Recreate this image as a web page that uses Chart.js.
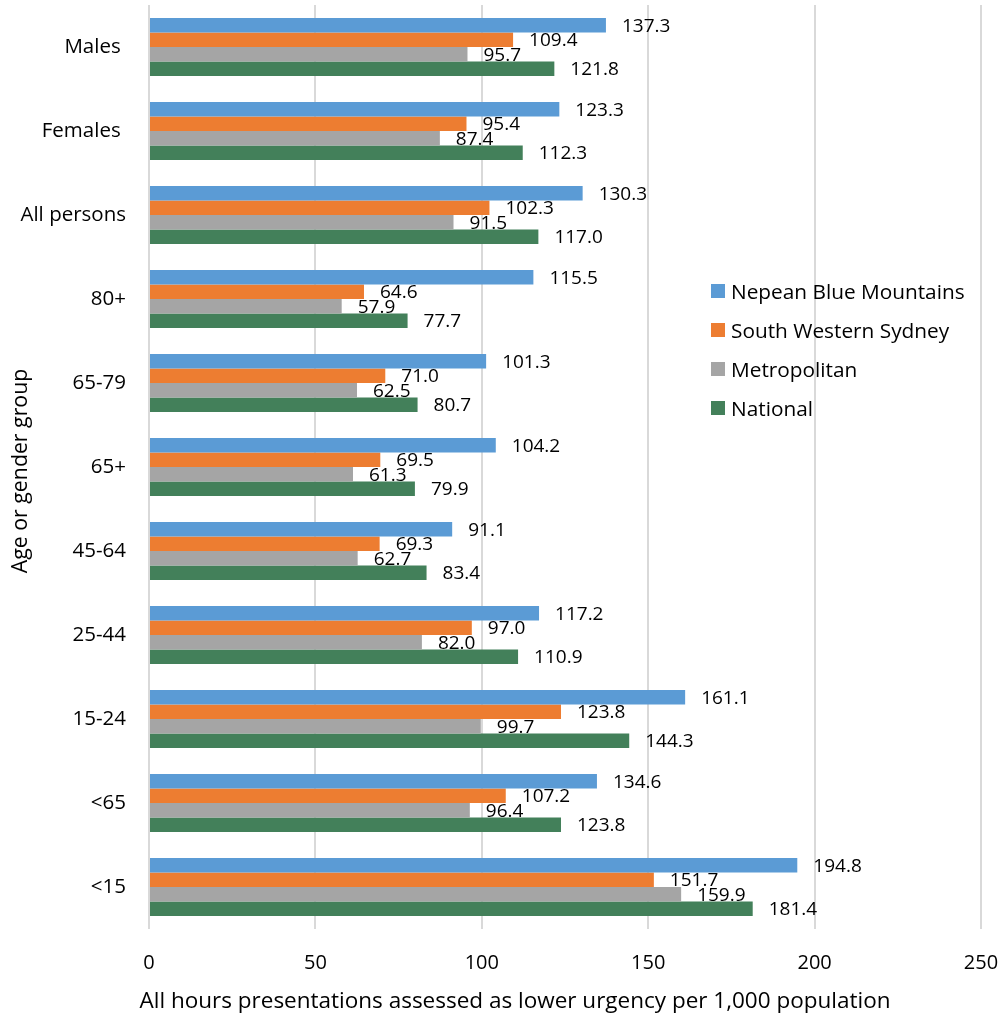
<!DOCTYPE html>
<html>
<head>
<meta charset="utf-8">
<script src="https://cdn.jsdelivr.net/npm/chart.js@4/dist/chart.umd.min.js"></script>
<style>
  html, body { margin: 0; padding: 0; background: #fff; }
  #wrap { position: relative; width: 1002px; height: 1020px; }
  #legend { position: absolute; left: 711px; top: 271px; font-family: "Open Sans", sans-serif; font-size: 20.8px; color: #000; }
  .row { display: flex; align-items: center; height: 39px; }
  .sw { width: 14px; height: 14px; margin-right: 6px; }
</style>
</head>
<body>
<div id="wrap">
  <canvas id="c" width="1002" height="1020"></canvas>
  <div id="legend"></div>
</div>
<script>
const categories = ["Males ", "Females ", "All persons", "80+", "65-79", "65+", "45-64", "25-44", "15-24", "<65", "<15"];
const seriesNames = ["Nepean Blue Mountains", "South Western Sydney", "Metropolitan", "National"];
const nepean = [137.3, 123.3, 130.3, 115.5, 101.3, 104.2, 91.1, 117.2, 161.1, 134.6, 194.8];
const southWestern = [109.4, 95.4, 102.3, 64.6, 71.0, 69.5, 69.3, 97.0, 123.8, 107.2, 151.7];
const metropolitan = [95.7, 87.4, 91.5, 57.9, 62.5, 61.3, 62.7, 82.0, 99.7, 96.4, 159.9];
const national = [121.8, 112.3, 117.0, 77.7, 80.7, 79.9, 83.4, 110.9, 144.3, 123.8, 181.4];
const xTicks = [0, 50, 100, 150, 200, 250];
const xTitle = 'All hours presentations assessed as lower urgency per 1,000 population';
const yTitle = 'Age or gender group';
const colors = ["#5B9BD5", "#ED7D31", "#A5A5A5", "#43805A"];

const FONT = '"Open Sans", sans-serif';
const allSeries = [nepean, southWestern, metropolitan, national];

const dataLabels = {
  id: 'dataLabels',
  afterDatasetsDraw(chart) {
    const ctx = chart.ctx;
    ctx.save();
    ctx.font = '19px ' + FONT;
    ctx.fillStyle = '#000';
    ctx.textAlign = 'left';
    ctx.textBaseline = 'middle';
    chart.data.datasets.forEach((ds, i) => {
      const meta = chart.getDatasetMeta(i);
      meta.data.forEach((el, j) => {
        ctx.fillText(ds.data[j].toFixed(1), el.x + 16, el.y + 1);
      });
    });
    ctx.restore();
  }
};

const axisTitles = {
  id: 'axisTitles',
  afterDraw(chart) {
    const ctx = chart.ctx;
    ctx.save();
    ctx.fillStyle = '#000';
    ctx.textAlign = 'center';
    ctx.textBaseline = 'middle';
    ctx.font = '22.5px ' + FONT;
    ctx.fillText(xTitle, 515, 1002);
    ctx.translate(21, 471);
    ctx.rotate(-Math.PI / 2);
    ctx.font = '21.3px ' + FONT;
    ctx.fillText(yTitle, 0, 0);
    ctx.restore();
  }
};

function zeroPad(scale) {
  scale.paddingTop = 0; scale.paddingBottom = 0;
  scale.paddingLeft = 0; scale.paddingRight = 0;
}

const chart = new Chart(document.getElementById('c'), {
  type: 'bar',
  data: {
    labels: categories,
    datasets: allSeries.map((d, i) => ({
      label: seriesNames[i],
      data: d,
      backgroundColor: colors[i],
      borderWidth: 0,
      categoryPercentage: 0.69,
      barPercentage: 1.0
    }))
  },
  options: {
    indexAxis: 'y',
    responsive: false,
    animation: false,
    devicePixelRatio: 1,
    layout: { padding: { top: 5, right: 21, left: 0, bottom: 0 } },
    plugins: { legend: { display: false }, tooltip: { enabled: false } },
    scales: {
      x: {
        min: 0, max: 250,
        afterBuildTicks(scale) { scale.ticks = xTicks.map(v => ({ value: v })); },
        grid: { color: '#D9D9D9', lineWidth: 2, drawTicks: false },
        border: { display: false },
        ticks: { color: '#000', font: { family: FONT, size: 20 }, padding: 22 },
        title: { display: false },
        afterFit(scale) { scale.height = 91; zeroPad(scale); }
      },
      y: {
        grid: { display: false, drawTicks: false },
        border: { display: false },
        ticks: { color: '#000', font: { family: FONT, size: 20.5 }, padding: 23 },
        title: { display: false },
        afterFit(scale) { scale.width = 149; zeroPad(scale); }
      }
    }
  },
  plugins: [dataLabels, axisTitles]
});

const legend = document.getElementById('legend');
seriesNames.forEach((n, i) => {
  const r = document.createElement('div');
  r.className = 'row';
  const s = document.createElement('div');
  s.className = 'sw';
  s.style.background = colors[i];
  const t = document.createElement('span');
  t.textContent = n;
  r.appendChild(s); r.appendChild(t);
  legend.appendChild(r);
});
</script>
</body>
</html>
